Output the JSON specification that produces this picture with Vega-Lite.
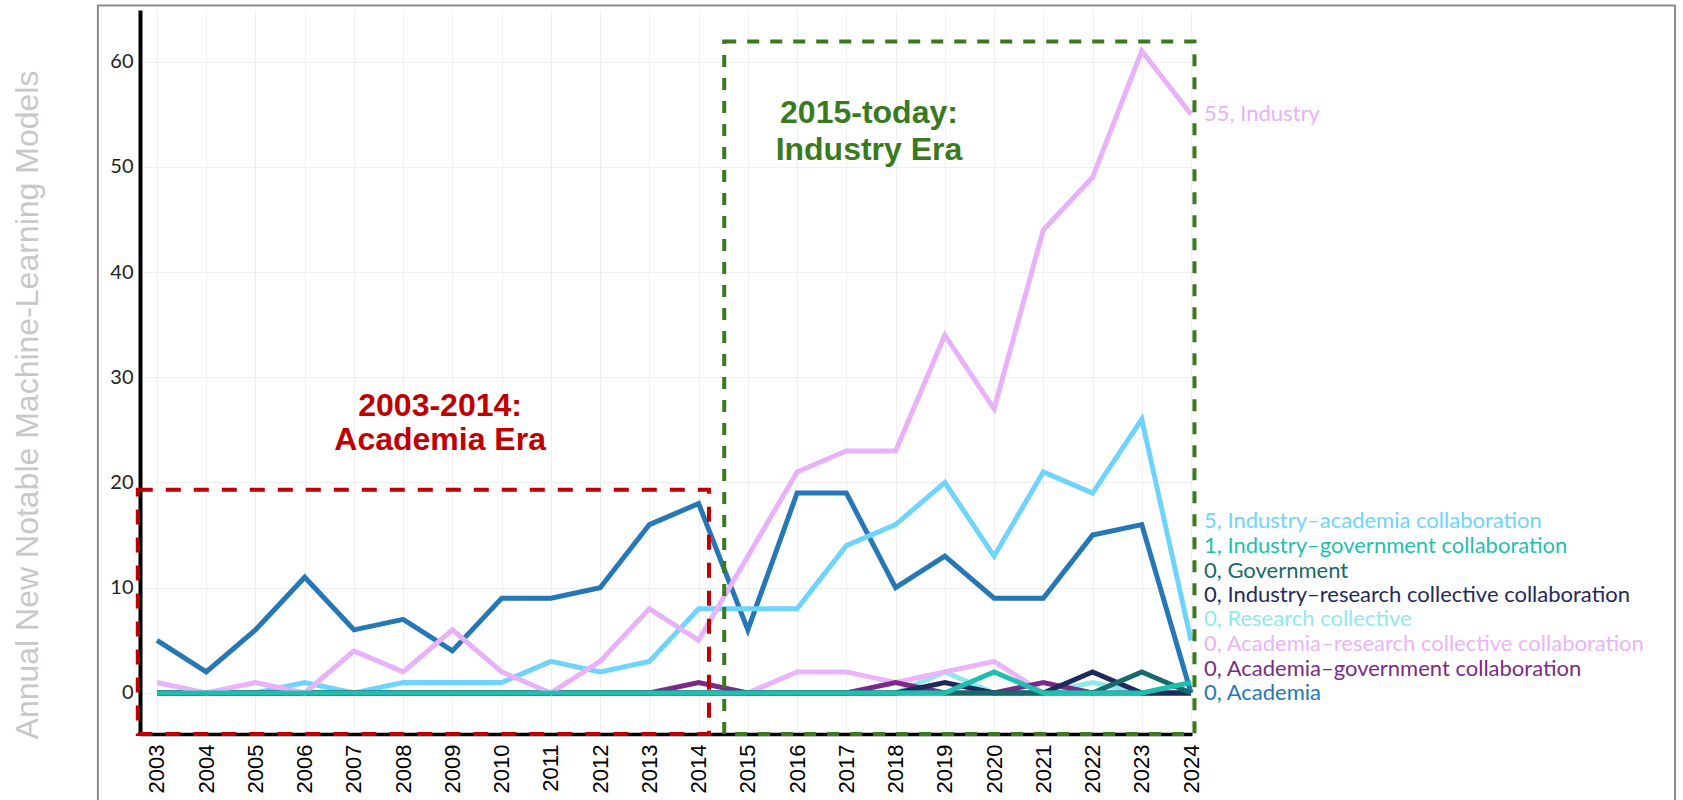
{
  "$schema": "https://vega.github.io/schema/vega-lite/v6.json",
  "width": 1052,
  "height": 724,
  "autosize": {"type": "none"},
  "padding": {"left": 140, "top": 10, "right": 491, "bottom": 66},
  "background": "white",
  "config": {"view": {"stroke": null}, "font": "Lato"},
  "datasets": {
    "models": [
      {"year": 2003, "Academia": 5, "Industry–academia collaboration": 0, "Research collective": 0, "Academia–research collective collaboration": 0, "Academia–government collaboration": 0, "Industry–research collective collaboration": 0, "Government": 0, "Industry": 1, "Industry–government collaboration": 0},
      {"year": 2004, "Academia": 2, "Industry–academia collaboration": 0, "Research collective": 0, "Academia–research collective collaboration": 0, "Academia–government collaboration": 0, "Industry–research collective collaboration": 0, "Government": 0, "Industry": 0, "Industry–government collaboration": 0},
      {"year": 2005, "Academia": 6, "Industry–academia collaboration": 0, "Research collective": 0, "Academia–research collective collaboration": 0, "Academia–government collaboration": 0, "Industry–research collective collaboration": 0, "Government": 0, "Industry": 1, "Industry–government collaboration": 0},
      {"year": 2006, "Academia": 11, "Industry–academia collaboration": 1, "Research collective": 0, "Academia–research collective collaboration": 0, "Academia–government collaboration": 0, "Industry–research collective collaboration": 0, "Government": 0, "Industry": 0, "Industry–government collaboration": 0},
      {"year": 2007, "Academia": 6, "Industry–academia collaboration": 0, "Research collective": 0, "Academia–research collective collaboration": 0, "Academia–government collaboration": 0, "Industry–research collective collaboration": 0, "Government": 0, "Industry": 4, "Industry–government collaboration": 0},
      {"year": 2008, "Academia": 7, "Industry–academia collaboration": 1, "Research collective": 0, "Academia–research collective collaboration": 0, "Academia–government collaboration": 0, "Industry–research collective collaboration": 0, "Government": 0, "Industry": 2, "Industry–government collaboration": 0},
      {"year": 2009, "Academia": 4, "Industry–academia collaboration": 1, "Research collective": 0, "Academia–research collective collaboration": 0, "Academia–government collaboration": 0, "Industry–research collective collaboration": 0, "Government": 0, "Industry": 6, "Industry–government collaboration": 0},
      {"year": 2010, "Academia": 9, "Industry–academia collaboration": 1, "Research collective": 0, "Academia–research collective collaboration": 0, "Academia–government collaboration": 0, "Industry–research collective collaboration": 0, "Government": 0, "Industry": 2, "Industry–government collaboration": 0},
      {"year": 2011, "Academia": 9, "Industry–academia collaboration": 3, "Research collective": 0, "Academia–research collective collaboration": 0, "Academia–government collaboration": 0, "Industry–research collective collaboration": 0, "Government": 0, "Industry": 0, "Industry–government collaboration": 0},
      {"year": 2012, "Academia": 10, "Industry–academia collaboration": 2, "Research collective": 0, "Academia–research collective collaboration": 0, "Academia–government collaboration": 0, "Industry–research collective collaboration": 0, "Government": 0, "Industry": 3, "Industry–government collaboration": 0},
      {"year": 2013, "Academia": 16, "Industry–academia collaboration": 3, "Research collective": 0, "Academia–research collective collaboration": 0, "Academia–government collaboration": 0, "Industry–research collective collaboration": 0, "Government": 0, "Industry": 8, "Industry–government collaboration": 0},
      {"year": 2014, "Academia": 18, "Industry–academia collaboration": 8, "Research collective": 0, "Academia–research collective collaboration": 0, "Academia–government collaboration": 1, "Industry–research collective collaboration": 0, "Government": 0, "Industry": 5, "Industry–government collaboration": 0},
      {"year": 2015, "Academia": 6, "Industry–academia collaboration": 8, "Research collective": 0, "Academia–research collective collaboration": 0, "Academia–government collaboration": 0, "Industry–research collective collaboration": 0, "Government": 0, "Industry": 13, "Industry–government collaboration": 0},
      {"year": 2016, "Academia": 19, "Industry–academia collaboration": 8, "Research collective": 0, "Academia–research collective collaboration": 2, "Academia–government collaboration": 0, "Industry–research collective collaboration": 0, "Government": 0, "Industry": 21, "Industry–government collaboration": 0},
      {"year": 2017, "Academia": 19, "Industry–academia collaboration": 14, "Research collective": 0, "Academia–research collective collaboration": 2, "Academia–government collaboration": 0, "Industry–research collective collaboration": 0, "Government": 0, "Industry": 23, "Industry–government collaboration": 0},
      {"year": 2018, "Academia": 10, "Industry–academia collaboration": 16, "Research collective": 0, "Academia–research collective collaboration": 1, "Academia–government collaboration": 1, "Industry–research collective collaboration": 0, "Government": 0, "Industry": 23, "Industry–government collaboration": 0},
      {"year": 2019, "Academia": 13, "Industry–academia collaboration": 20, "Research collective": 2, "Academia–research collective collaboration": 2, "Academia–government collaboration": 0, "Industry–research collective collaboration": 1, "Government": 0, "Industry": 34, "Industry–government collaboration": 0},
      {"year": 2020, "Academia": 9, "Industry–academia collaboration": 13, "Research collective": 0, "Academia–research collective collaboration": 3, "Academia–government collaboration": 0, "Industry–research collective collaboration": 0, "Government": 0, "Industry": 27, "Industry–government collaboration": 2},
      {"year": 2021, "Academia": 9, "Industry–academia collaboration": 21, "Research collective": 0, "Academia–research collective collaboration": 0, "Academia–government collaboration": 1, "Industry–research collective collaboration": 0, "Government": 0, "Industry": 44, "Industry–government collaboration": 0},
      {"year": 2022, "Academia": 15, "Industry–academia collaboration": 19, "Research collective": 1, "Academia–research collective collaboration": 0, "Academia–government collaboration": 0, "Industry–research collective collaboration": 2, "Government": 0, "Industry": 49, "Industry–government collaboration": 0},
      {"year": 2023, "Academia": 16, "Industry–academia collaboration": 26, "Research collective": 0, "Academia–research collective collaboration": 0, "Academia–government collaboration": 0, "Industry–research collective collaboration": 0, "Government": 2, "Industry": 61, "Industry–government collaboration": 0},
      {"year": 2024, "Academia": 0, "Industry–academia collaboration": 5, "Research collective": 0, "Academia–research collective collaboration": 0, "Academia–government collaboration": 0, "Industry–research collective collaboration": 0, "Government": 0, "Industry": 55, "Industry–government collaboration": 1}
    ],
    "labels": [
      {"series": "Industry", "text": "55, Industry", "ly": 55.0},
      {"series": "Industry–academia collaboration", "text": "5, Industry–academia collaboration", "ly": 16.3},
      {"series": "Industry–government collaboration", "text": "1, Industry–government collaboration", "ly": 14.0},
      {"series": "Government", "text": "0, Government", "ly": 11.63},
      {"series": "Industry–research collective collaboration", "text": "0, Industry–research collective collaboration", "ly": 9.32},
      {"series": "Research collective", "text": "0, Research collective", "ly": 7.03},
      {"series": "Academia–research collective collaboration", "text": "0, Academia–research collective collaboration", "ly": 4.66},
      {"series": "Academia–government collaboration", "text": "0, Academia–government collaboration", "ly": 2.31},
      {"series": "Academia", "text": "0, Academia", "ly": 0.0}
    ],
    "eras": [
      {"era": "academia", "x1": 2002.61, "x2": 2014.21, "y1": -3.9, "y2": 19.3},
      {"era": "industry", "x1": 2014.52, "x2": 2024.07, "y1": -3.9, "y2": 61.9}
    ],
    "notes": [
      {"era": "academia", "text": "2003-2014:", "x": 2008.75, "y": 27.3},
      {"era": "academia", "text": "Academia Era", "x": 2008.75, "y": 24.06},
      {"era": "industry", "text": "2015-today:", "x": 2017.46, "y": 55.15},
      {"era": "industry", "text": "Industry Era", "x": 2017.46, "y": 51.63}
    ],
    "frame": [
      {"x1": 2001.8, "x2": 2033.83, "y1": -13, "y2": 65.32}
    ]
  },
  "encoding": {
    "x": {
      "type": "quantitative",
      "scale": {"domain": [2002.655, 2024.02], "nice": false, "zero": false},
      "axis": {
        "title": null,
        "values": [2003, 2004, 2005, 2006, 2007, 2008, 2009, 2010, 2011, 2012, 2013, 2014, 2015, 2016, 2017, 2018, 2019, 2020, 2021, 2022, 2023, 2024],
        "format": "d",
        "labelAngle": -90,
        "labelFont": "Liberation Sans",
        "labelFontSize": 22,
        "labelColor": "#000000",
        "labelPadding": 10,
        "labelOverlap": false,
        "labelFlush": false,
        "ticks": false,
        "domainColor": "#000000",
        "domainWidth": 3.5,
        "grid": true,
        "gridColor": "#efefef",
        "gridWidth": 1
      }
    },
    "y": {
      "type": "quantitative",
      "scale": {"domain": [-3.9, 64.9], "nice": false, "zero": false},
      "axis": {
        "title": "Annual New Notable Machine-Learning Models",
        "values": [0, 10, 20, 30, 40, 50, 60],
        "labelFont": "Lato",
        "labelFontSize": 20,
        "labelColor": "#222222",
        "labelPadding": 7,
        "labelFlush": false,
        "ticks": false,
        "domainColor": "#000000",
        "domainWidth": 4,
        "grid": true,
        "gridColor": "#efefef",
        "gridWidth": 1,
        "titleFont": "Liberation Sans",
        "titleFontSize": 32,
        "titleFontWeight": "normal",
        "titleColor": "#c8c8c8",
        "titleAngle": 270,
        "titleX": -103,
        "titleY": 394.5,
        "titleBaseline": "alphabetic",
        "titleAlign": "center"
      }
    }
  },
  "layer": [
    {
      "data": {"name": "models"},
      "transform": [
        {"fold": ["Academia", "Industry–academia collaboration", "Research collective", "Academia–research collective collaboration", "Academia–government collaboration", "Industry–research collective collaboration", "Government", "Industry", "Industry–government collaboration"], "as": ["series", "value"]}
      ],
      "mark": {"type": "line", "strokeWidth": 5, "strokeJoin": "miter", "strokeCap": "butt", "clip": false},
      "encoding": {
        "x": {"field": "year"},
        "y": {"field": "value"},
        "color": {
          "field": "series", "type": "nominal", "legend": null,
          "scale": {
            "domain": ["Academia", "Industry–academia collaboration", "Research collective", "Academia–research collective collaboration", "Academia–government collaboration", "Industry–research collective collaboration", "Government", "Industry", "Industry–government collaboration"],
            "range": ["#2677b5", "#6fd4fb", "#8fe9ec", "#ebb3f9", "#7b2a87", "#1f2a5c", "#17696b", "#e8b1f9", "#1fbfb0"]
          }
        }
      }
    },
    {
      "data": {"name": "frame"},
      "mark": {"type": "rect", "fill": null, "fillOpacity": 0, "stroke": "#8c8c8c", "strokeWidth": 2, "clip": false},
      "encoding": {
        "x": {"field": "x1"},
        "x2": {"field": "x2"},
        "y": {"field": "y1"},
        "y2": {"field": "y2"}
      }
    },
    {
      "data": {"name": "eras"},
      "transform": [{"filter": "datum.era === 'academia'"}],
      "mark": {"type": "rect", "fill": null, "fillOpacity": 0, "stroke": "#c00000", "strokeWidth": 4, "strokeDash": [15, 13], "clip": false},
      "encoding": {
        "x": {"field": "x1"},
        "x2": {"field": "x2"},
        "y": {"field": "y2"},
        "y2": {"field": "y1"}
      }
    },
    {
      "data": {"name": "eras"},
      "transform": [{"filter": "datum.era === 'industry'"}],
      "mark": {"type": "rect", "fill": null, "fillOpacity": 0, "stroke": "#3a7a1f", "strokeWidth": 4, "strokeDash": [12, 11], "clip": false},
      "encoding": {
        "x": {"field": "x1"},
        "x2": {"field": "x2"},
        "y": {"field": "y2"},
        "y2": {"field": "y1"}
      }
    },
    {
      "data": {"name": "notes"},
      "transform": [{"filter": "datum.era === 'academia'"}],
      "mark": {"type": "text", "font": "Liberation Sans", "fontSize": 32, "fontWeight": "bold", "fill": "#c00000", "align": "center", "baseline": "middle", "clip": false},
      "encoding": {
        "x": {"field": "x"},
        "y": {"field": "y"},
        "text": {"field": "text"}
      }
    },
    {
      "data": {"name": "notes"},
      "transform": [{"filter": "datum.era === 'industry'"}],
      "mark": {"type": "text", "font": "Liberation Sans", "fontSize": 32, "fontWeight": "bold", "fill": "#3a7a1f", "align": "center", "baseline": "middle", "clip": false},
      "encoding": {
        "x": {"field": "x"},
        "y": {"field": "y"},
        "text": {"field": "text"}
      }
    },
    {
      "data": {"name": "labels"},
      "mark": {"type": "text", "font": "Lato", "fontSize": 22, "align": "left", "baseline": "middle", "dx": 13, "clip": false},
      "encoding": {
        "x": {"datum": 2024},
        "y": {"field": "ly"},
        "text": {"field": "text"},
        "color": {"field": "series", "type": "nominal", "legend": null}
      }
    }
  ]
}
